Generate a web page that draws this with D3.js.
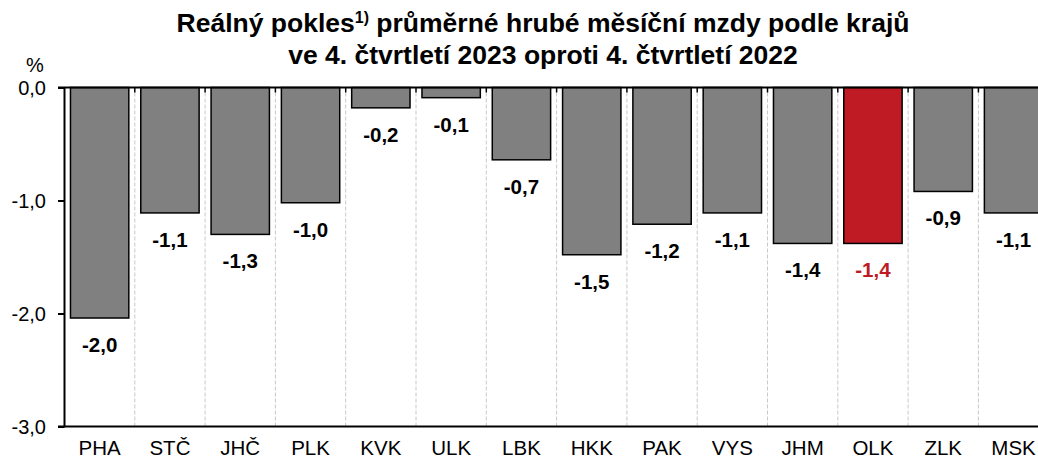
<!DOCTYPE html>
<html>
<head>
<meta charset="utf-8">
<script src="https://cdn.jsdelivr.net/npm/d3@7"></script>
<style>
  body { margin: 0; background: #fff; }
  text { font-family: "Liberation Sans", Arial, sans-serif; }
</style>
</head>
<body>
<div id="chart"></div>
<script>
// regions and real wage change (%)
const regions = ['PHA', 'STČ', 'JHČ', 'PLK', 'KVK', 'ULK', 'LBK', 'HKK', 'PAK', 'VYS', 'JHM', 'OLK', 'ZLK', 'MSK'];
const values = [-2.04, -1.11, -1.30, -1.02, -0.18, -0.09, -0.64, -1.48, -1.21, -1.11, -1.38, -1.38, -0.92, -1.11];
const labels = ['-2,0', '-1,1', '-1,3', '-1,0', '-0,2', '-0,1', '-0,7', '-1,5', '-1,2', '-1,1', '-1,4', '-1,4', '-0,9', '-1,1'];
const highlight = 'OLK';
const yTicks = [0, -1, -2, -3];

const width = 1038, height = 459;
const svg = d3.select('#chart').append('svg')
  .attr('width', width)
  .attr('height', height);

// title
const title = svg.append('text')
  .attr('text-anchor', 'middle')
  .style('font-size', '26.5px')
  .style('font-weight', 'bold');
const t1 = title.append('tspan').attr('x', 543).attr('y', 32);
t1.append('tspan').text('Reálný pokles');
t1.append('tspan').text('1)').style('font-size', '16px').attr('dy', -9);
t1.append('tspan').text(' průměrné hrubé měsíční mzdy podle krajů').attr('dy', 9);
title.append('tspan').attr('x', 543).attr('y', 64).text('ve 4. čtvrtletí 2023 oproti 4. čtvrtletí 2022');

const plotLeft = 64.5, plotRight = 1048.7;

const x = d3.scaleBand()
  .domain(regions)
  .range([plotLeft, plotRight])
  .paddingInner(0.17)
  .paddingOuter(0.085);

const y = d3.scaleLinear()
  .domain([-3, 0])
  .range([426.5, 87.5]);

// dashed separators between categories
const step = x.step();
const bounds = d3.range(1, regions.length).map(i => plotLeft + i * step);
svg.append('g').selectAll('line')
  .data(bounds)
  .join('line')
  .attr('x1', d => d).attr('x2', d => d)
  .attr('y1', y(0) + 5).attr('y2', y(-3))
  .attr('stroke', '#c8c8c8')
  .attr('stroke-width', 1)
  .attr('stroke-dasharray', '4,2');

// bars
svg.append('g').selectAll('rect')
  .data(regions)
  .join('rect')
  .attr('x', d => x(d))
  .attr('y', y(0))
  .attr('width', x.bandwidth())
  .attr('height', (d, i) => y(values[i]) - y(0))
  .attr('fill', d => d === highlight ? '#be1b24' : '#808080')
  .attr('stroke', '#000')
  .attr('stroke-width', 1.5);

// value labels
svg.append('g').selectAll('text')
  .data(regions)
  .join('text')
  .attr('x', d => x(d) + x.bandwidth() / 2)
  .attr('y', (d, i) => y(values[i]) + 34)
  .attr('text-anchor', 'middle')
  .style('font-size', '20.5px')
  .style('font-weight', 'bold')
  .attr('fill', d => d === highlight ? '#be1b24' : '#000')
  .text((d, i) => labels[i]);

// zero line with category ticks
svg.append('line')
  .attr('x1', 58).attr('x2', plotRight)
  .attr('y1', y(0)).attr('y2', y(0))
  .attr('stroke', '#000').attr('stroke-width', 2);
svg.append('g').selectAll('line')
  .data(bounds)
  .join('line')
  .attr('x1', d => d).attr('x2', d => d)
  .attr('y1', y(0)).attr('y2', y(0) + 5)
  .attr('stroke', '#000').attr('stroke-width', 1.5);

// bottom line
svg.append('line')
  .attr('x1', 58).attr('x2', plotRight)
  .attr('y1', y(-3)).attr('y2', y(-3))
  .attr('stroke', '#000').attr('stroke-width', 2);

// y axis
const yAxis = svg.append('g')
  .attr('transform', `translate(${plotLeft},0)`)
  .call(d3.axisLeft(y).tickValues(yTicks).tickSize(6.5).tickPadding(12)
    .tickFormat(d => d3.format('.1f')(d).replace('.', ',').replace('−', '-')));
yAxis.select('.domain').attr('stroke-width', 2).attr('d', `M0,${y(0)}V${y(-3)}`);
yAxis.selectAll('.tick line').attr('stroke-width', 2);
yAxis.selectAll('.tick text')
  .attr('dy', '0.36em')
  .style('font-size', '20px')
  .style('font-family', '"Liberation Sans", Arial, sans-serif')
  .attr('fill', '#000');

svg.append('text')
  .attr('x', 35).attr('y', 72)
  .attr('text-anchor', 'middle')
  .style('font-size', '20px')
  .text('%');

// category labels
svg.append('g').selectAll('text')
  .data(regions)
  .join('text')
  .attr('x', d => x(d) + x.bandwidth() / 2)
  .attr('y', 455)
  .attr('text-anchor', 'middle')
  .style('font-size', '20.5px')
  .text(d => d);
</script>
</body>
</html>
